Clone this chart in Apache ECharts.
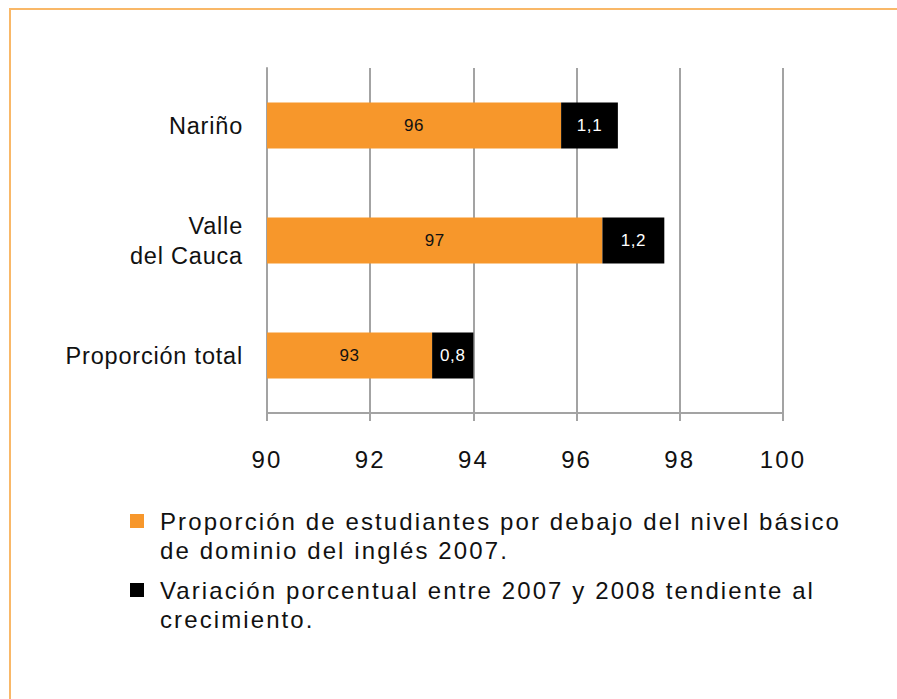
<!DOCTYPE html>
<html>
<head>
<meta charset="utf-8">
<script src="https://cdn.jsdelivr.net/npm/echarts@6/dist/echarts.min.js"></script>
<style>
  html, body { margin: 0; padding: 0; background: #fff; }
  #chart { width: 897px; height: 699px; }
</style>
</head>
<body>
<div id="chart"></div>
<script>
// Categories bottom to top
const regions = ['Proporción total', 'Valle\ndel Cauca', 'Nariño'];
const proportion2007 = [93.2, 96.5, 95.7];
const proportionLabels = ['93', '97', '96'];
const variation = [0.8, 1.2, 1.1];
const variationLabels = ['0,8', '1,2', '1,1'];
const seriesNames = [
    'Proporción de estudiantes por debajo del nivel básico\nde dominio del inglés 2007.',
    'Variación porcentual entre 2007 y 2008 tendiente al\ncrecimiento.'
];

const FONT = '"Liberation Sans", Arial, Helvetica, sans-serif';
const GREY = '#A3A3A3';

// square on the first line of a two-line legend entry
const legendIcon = 'path://M0,7H14V21H0Z M0,0L0.01,0L0,0Z M0,58L0.01,58L0,58Z';

const chart = echarts.init(document.getElementById('chart'), null, { renderer: 'svg' });

const option = {
    animation: false,
    textStyle: { fontFamily: FONT },
    graphic: [{
        type: 'polyline',
        shape: { points: [[10, 699], [10, 9], [897, 9]] },
        style: { stroke: '#F9B868', lineWidth: 2, fill: null }
    }],
    grid: {
        left: 267,
        right: 114,
        top: 68,
        bottom: 286
    },
    legend: {
        orient: 'vertical',
        left: 125,
        top: 502,
        itemGap: 11,
        itemWidth: 14,
        itemHeight: 58,
        icon: legendIcon,
        selectedMode: false,
        textStyle: { fontSize: 24, color: '#111', lineHeight: 29, padding: [0, 0, 0, 11] },
        data: seriesNames
    },
    xAxis: {
        type: 'value',
        min: 90,
        max: 100,
        interval: 2,
        axisLine: { show: true, lineStyle: { color: GREY, width: 2 } },
        axisTick: { show: true, length: 8, lineStyle: { color: GREY, width: 2 } },
        splitLine: { lineStyle: { color: GREY, width: 2 } },
        axisLabel: { color: '#111', fontSize: 24, margin: 34 }
    },
    yAxis: {
        type: 'category',
        data: regions,
        axisLine: { lineStyle: { color: GREY, width: 2 } },
        axisTick: { length: 8, lineStyle: { color: GREY, width: 2 } },
        axisLabel: { color: '#111', fontSize: 23.5, margin: 24, lineHeight: 30, align: 'right' }
    },
    series: [{
        name: seriesNames[0],
        type: 'bar',
        stack: 'total',
        barWidth: '40%',
        data: proportion2007,
        itemStyle: { color: '#F7972B' },
        label: {
            show: true,
            position: 'inside',
            color: '#111',
            fontSize: 17,
            formatter: p => proportionLabels[p.dataIndex]
        }
    }, {
        name: seriesNames[1],
        type: 'bar',
        stack: 'total',
        barWidth: '40%',
        data: variation,
        itemStyle: { color: '#000' },
        label: {
            show: true,
            position: 'inside',
            color: '#fff',
            fontSize: 17,
            formatter: p => variationLabels[p.dataIndex]
        }
    }]
};

chart.setOption(option);

// the source font is tracked wider than Liberation Sans
function trackText() {
    document.querySelectorAll('#chart svg text').forEach(t => {
        const size = parseFloat(getComputedStyle(t).fontSize);
        const x = parseFloat(t.getAttribute('x') || 0);
        let spacing = 0.8;
        if (size === 24 && x < 200) spacing = 2.1;   // legend
        else if (size === 24) spacing = 1.4;         // x axis
        else if (size === 17) spacing = 0.6;         // bar labels
        t.style.letterSpacing = spacing + 'px';
    });
}
trackText();
chart.on('finished', trackText);
window.addEventListener('resize', () => chart.resize());
</script>
</body>
</html>
